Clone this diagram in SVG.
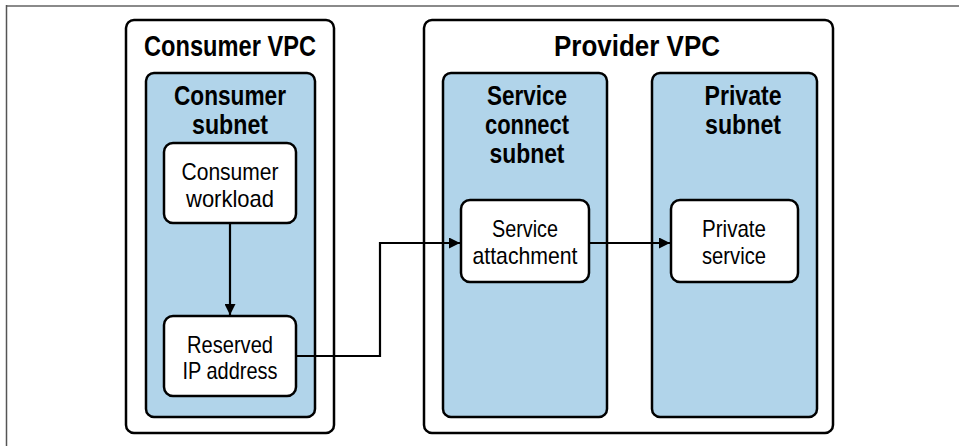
<svg xmlns="http://www.w3.org/2000/svg" width="959" height="446" viewBox="0 0 959 446">
<defs>
<marker id="ah" viewBox="0 0 10 10" refX="10" refY="5" markerWidth="11" markerHeight="11" markerUnits="userSpaceOnUse" orient="auto">
<path d="M0,0 L10,5 L0,10 Z" fill="#000"/>
</marker>
<style>
.vpc{fill:#fff;stroke:#000;stroke-width:2.5}
.sub{fill:#b1d4ea;stroke:#000;stroke-width:2.5}
.node{fill:#fff;stroke:#000;stroke-width:2.5}
.t{font-family:"Liberation Sans",Arial,sans-serif;text-anchor:middle;fill:#000}
.h1{font-size:29px;font-weight:bold}
.h2{font-size:27px;font-weight:bold}
.n{font-size:24px}
.c{fill:none;stroke:#000;stroke-width:2.2}
</style>
</defs>
<rect width="959" height="446" fill="#fff"/>
<line x1="6" y1="6" x2="959" y2="6" stroke="#8a8a8a" stroke-width="2"/>
<line x1="6.5" y1="5" x2="6.5" y2="446" stroke="#555" stroke-width="1.5"/>

<g id="consumer-vpc">
<rect class="vpc" x="126" y="20" width="208" height="413" rx="8"/>
<text class="t h1" x="230" y="56" textLength="172" lengthAdjust="spacingAndGlyphs">Consumer VPC</text>
</g>
<g id="consumer-subnet">
<rect class="sub" x="146" y="73" width="169" height="344" rx="8"/>
<text class="t h2" x="230" y="105" textLength="112" lengthAdjust="spacingAndGlyphs">Consumer</text>
<text class="t h2" x="230" y="134" textLength="76" lengthAdjust="spacingAndGlyphs">subnet</text>
</g>
<g id="consumer-workload">
<rect class="node" x="164" y="143" width="132" height="80" rx="9"/>
<text class="t n" x="230" y="180" textLength="97" lengthAdjust="spacingAndGlyphs">Consumer</text>
<text class="t n" x="230" y="207" textLength="88" lengthAdjust="spacingAndGlyphs">workload</text>
</g>
<g id="reserved-ip">
<rect class="node" x="164" y="316" width="132" height="80" rx="9"/>
<text class="t n" x="230" y="353" textLength="86" lengthAdjust="spacingAndGlyphs">Reserved</text>
<text class="t n" x="230" y="379" textLength="95" lengthAdjust="spacingAndGlyphs">IP address</text>
</g>

<g id="provider-vpc">
<rect class="vpc" x="424" y="20" width="409" height="413" rx="8"/>
<text class="t h1" x="637" y="56" textLength="166" lengthAdjust="spacingAndGlyphs">Provider VPC</text>
</g>
<g id="service-connect-subnet">
<rect class="sub" x="443" y="73" width="164" height="344" rx="8"/>
<text class="t h2" x="527" y="105" textLength="80" lengthAdjust="spacingAndGlyphs">Service</text>
<text class="t h2" x="527" y="134" textLength="84" lengthAdjust="spacingAndGlyphs">connect</text>
<text class="t h2" x="527" y="163" textLength="75" lengthAdjust="spacingAndGlyphs">subnet</text>
</g>
<g id="private-subnet">
<rect class="sub" x="652" y="73" width="165" height="344" rx="8"/>
<text class="t h2" x="743" y="105" textLength="77" lengthAdjust="spacingAndGlyphs">Private</text>
<text class="t h2" x="743" y="134" textLength="76" lengthAdjust="spacingAndGlyphs">subnet</text>
</g>
<g id="service-attachment">
<rect class="node" x="461" y="200" width="128" height="82" rx="9"/>
<text class="t n" x="525" y="237" textLength="66" lengthAdjust="spacingAndGlyphs">Service</text>
<text class="t n" x="525" y="264" textLength="105" lengthAdjust="spacingAndGlyphs">attachment</text>
</g>
<g id="private-service">
<rect class="node" x="671" y="200" width="127" height="82" rx="9"/>
<text class="t n" x="734" y="237" textLength="64" lengthAdjust="spacingAndGlyphs">Private</text>
<text class="t n" x="734" y="264" textLength="64" lengthAdjust="spacingAndGlyphs">service</text>
</g>

<g id="connectors">
<path class="c" d="M230,223 V315" marker-end="url(#ah)"/>
<path class="c" d="M296,356 H380 V243 H460" marker-end="url(#ah)"/>
<path class="c" d="M589,243 H670" marker-end="url(#ah)"/>
</g>
</svg>
